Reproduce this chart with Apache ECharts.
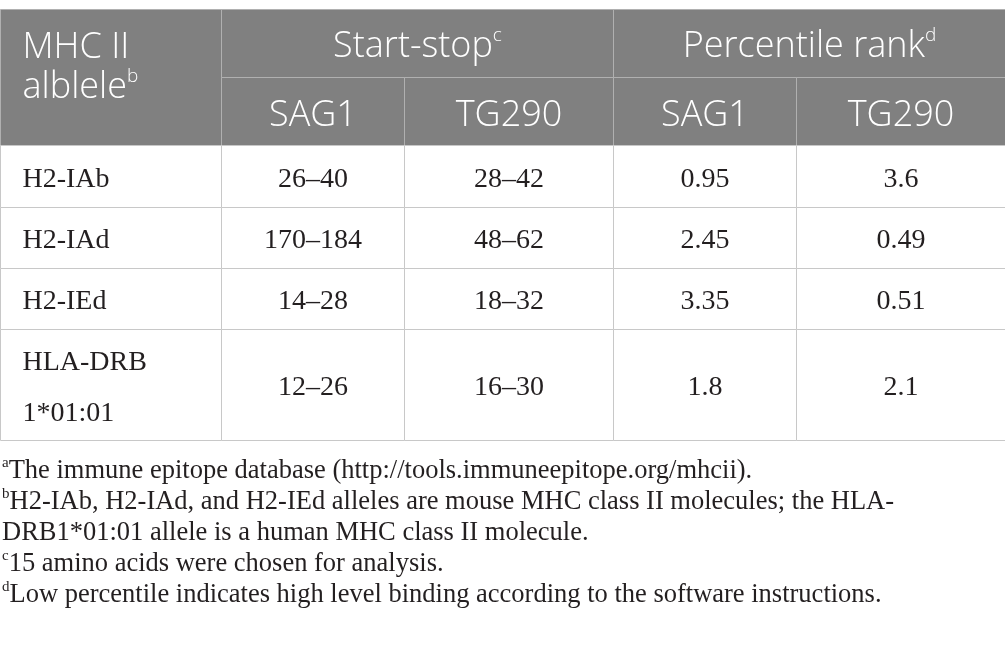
<!DOCTYPE html>
<html>
<head>
<meta charset="utf-8">
<script src="https://cdn.jsdelivr.net/npm/echarts@6/dist/echarts.min.js"></script>
<style>
  html, body { margin: 0; padding: 0; background: #fff; }
  #chart { width: 1005px; height: 647px; }
</style>
</head>
<body>
<div id="chart"></div>
<script>
// table content
const alleles = ['H2-IAb', 'H2-IAd', 'H2-IEd', 'HLA-DRB\n1*01:01'];
const sag1Start = [26, 170, 14, 12];
const sag1Stop = [40, 184, 28, 26];
const tg290Start = [28, 48, 18, 16];
const tg290Stop = [42, 62, 32, 30];
const sag1Rank = [0.95, 2.45, 3.35, 1.8];
const tg290Rank = [3.6, 0.49, 0.51, 2.1];
const firstHead = ['MHC II\nalblele', 'b'];
const groupHeads = [['Start-stop', 'c'], ['Percentile rank', 'd']];
const subHeads = ['SAG1', 'TG290', 'SAG1', 'TG290'];
const footnotes = [
  ['a', 'The immune epitope database (http://tools.immuneepitope.org/mhcii).'],
  ['b', 'H2-IAb, H2-IAd, and H2-IEd alleles are mouse MHC class II molecules; the HLA-\nDRB1*01:01 allele is a human MHC class II molecule.'],
  ['c', '15 amino acids were chosen for analysis.'],
  ['d', 'Low percentile indicates high level binding according to the software instructions.']
];

// layout (axis units)
const colW = [221, 183, 209, 183, 209];
const headH = [68, 68];
const rowH = [62, 61, 61, 111];

const HEAD_BG = '#808080';
const HEAD_LINE = '#b0b0b0';
const BODY_LINE = '#c8c8c8';
const INK = '#231f20';

const cum = arr => arr.reduce((acc, v) => { acc.push(acc[acc.length - 1] + v); return acc; }, [0]);
const xe = cum(colW);
const ye = cum(headH.concat(rowH));
const tok = (st, s) => s.split('\n').map(l => `{${st}|${l}}`).join('\n');

// build cells from the arrays above
const cells = [];
cells.push({ c0: 0, c1: 1, r0: 0, r1: 2, text: tok('h', firstHead[0]) + `{hs|${firstHead[1]}}`, left: true, head: true, dy: -10 });
groupHeads.forEach((g, i) => {
  cells.push({ c0: 1 + i * 2, c1: 3 + i * 2, r0: 0, r1: 1, text: `{h|${g[0]}}{hs|${g[1]}}`, head: true, dy: 3 });
});
subHeads.forEach((s, i) => {
  cells.push({ c0: 1 + i, c1: 2 + i, r0: 1, r1: 2, text: `{h|${s}}`, head: true, dy: 4 });
});
alleles.forEach((a, r) => {
  const row = [
    a,
    `${sag1Start[r]}–${sag1Stop[r]}`,
    `${tg290Start[r]}–${tg290Stop[r]}`,
    String(sag1Rank[r]),
    String(tg290Rank[r])
  ];
  row.forEach((t, c) => {
    cells.push({ c0: c, c1: c + 1, r0: 2 + r, r1: 3 + r, text: tok('b', t), left: c === 0, head: false, dy: 3 });
  });
});

const RICH = {
  h: { fontFamily: 'Open Sans', fontSize: 36, fontWeight: 300, fill: '#fff', color: '#fff', lineHeight: 40 },
  hs: { fontFamily: 'Open Sans', fontSize: 19, fontWeight: 300, fill: '#fff', color: '#fff', lineHeight: 28, verticalAlign: 'top' },
  b: { fontFamily: 'Liberation Serif', fontSize: 28, fill: INK, color: INK, lineHeight: 51 }
};

function renderCell(params, api) {
  const c = cells[params.dataIndex];
  const p0 = api.coord([api.value(0), api.value(2)]);
  const p1 = api.coord([api.value(1), api.value(3)]);
  const x = Math.round(p0[0]) + 0.5;
  const y = Math.round(p0[1]) + 0.5;
  const w = Math.round(p1[0]) - Math.round(p0[0]);
  const h = Math.round(p1[1]) - Math.round(p0[1]);
  return {
    type: 'group',
    children: [
      {
        type: 'rect',
        shape: { x: x, y: y, width: w, height: h },
        style: { fill: c.head ? HEAD_BG : '#fff', stroke: c.head ? HEAD_LINE : BODY_LINE, lineWidth: 1 }
      },
      {
        type: 'text',
        style: {
          text: c.text,
          x: c.left ? x + 22 : x + w / 2,
          y: y + h / 2 + c.dy,
          align: c.left ? 'left' : 'center',
          verticalAlign: 'middle',
          rich: RICH
        }
      }
    ]
  };
}

const chart = echarts.init(document.getElementById('chart'));

const footText = footnotes.map(([m, t]) =>
  t.split('\n').map((l, i) => (i === 0 ? `{s|${m}}` : '') + `{n|${l}}`).join('\n')
).join('\n');

chart.setOption({
  animation: false,
  title: {
    text: footText,
    left: 2,
    top: 456,
    padding: 0,
    textStyle: {
      fontFamily: 'Liberation Serif',
      fontSize: 26.5,
      fontWeight: 'normal',
      color: INK,
      lineHeight: 31,
      rich: {
        n: { fontFamily: 'Liberation Serif', fontSize: 26.5, fontWeight: 'normal', color: INK, lineHeight: 31 },
        s: { fontFamily: 'Liberation Serif', fontSize: 15, fontWeight: 'normal', color: INK, lineHeight: 20, verticalAlign: 'top' }
      }
    }
  },
  grid: { left: 0, right: 0, top: 9, height: ye[ye.length - 1] },
  xAxis: { type: 'value', min: 0, max: xe[xe.length - 1], show: false },
  yAxis: { type: 'value', min: 0, max: ye[ye.length - 1], inverse: true, show: false },
  series: [{
    type: 'custom',
    clip: false,
    encode: { x: [0, 1], y: [2, 3] },
    data: cells.map(c => [xe[c.c0], xe[c.c1], ye[c.r0], ye[c.r1]]),
    renderItem: renderCell
  }]
});

window.addEventListener('resize', () => chart.resize());
</script>
</body>
</html>
